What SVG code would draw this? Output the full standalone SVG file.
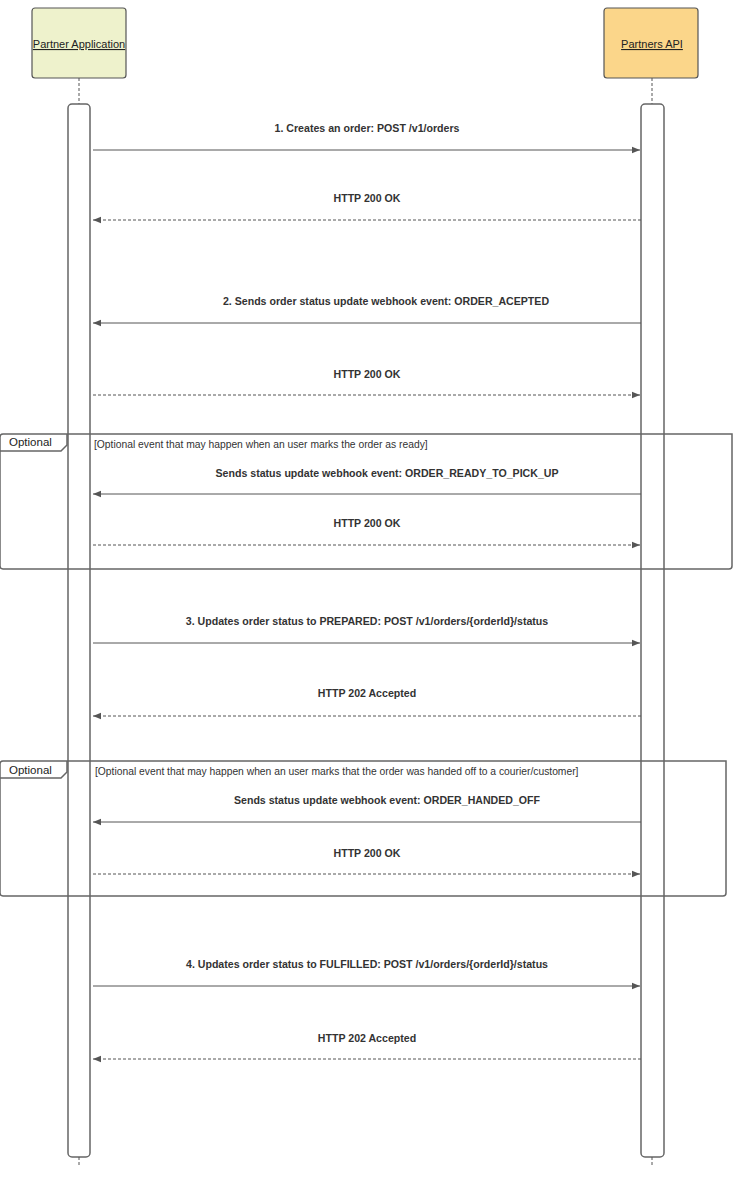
<svg xmlns="http://www.w3.org/2000/svg" width="741" height="1177" viewBox="0 0 741 1177">
<style>
text{font-family:"Liberation Sans",Arial,sans-serif;fill:#222}
.lbl{font-size:11px;text-anchor:middle}
.msg{font-size:10.6px;font-weight:bold;text-anchor:middle;fill:#333}
.ln{stroke:#555;stroke-width:1;fill:none}
.dash{stroke-dasharray:3,2}
.life{fill:#fff;stroke:#666;stroke-width:1.5}
.frame{fill:none;stroke:#666;stroke-width:1.5}
.small{font-size:10.3px;fill:#333}
</style>
<defs>
<marker id="ah" viewBox="0 0 10 10" refX="10" refY="5" markerWidth="8" markerHeight="8" orient="auto" markerUnits="userSpaceOnUse"><path d="M0,1 L10,5 L0,9 Z" fill="#555"/></marker>
</defs>
<g id="actor-partner-app">
<rect x="32" y="8" width="94" height="70" rx="3" fill="#eef2cc" stroke="#555" stroke-width="1.2"/>
<text class="lbl" x="79" y="48" font-size="10" text-decoration="underline">Partner Application</text>
<line class="ln dash" x1="79" y1="78" x2="79" y2="104" stroke="#888"/>
<rect class="life" x="68" y="104" width="22" height="1053" rx="4"/>
<line class="ln dash" x1="79" y1="1157" x2="79" y2="1166" stroke="#888"/>
</g>
<g id="actor-partners-api">
<rect x="604" y="8" width="94" height="70" rx="3" fill="#fbd68a" stroke="#555" stroke-width="1.2"/>
<text class="lbl" x="652" y="48" font-size="10" text-decoration="underline">Partners API</text>
<line class="ln dash" x1="652" y1="78" x2="652" y2="104" stroke="#888"/>
<rect class="life" x="641" y="104" width="23" height="1053" rx="4"/>
<line class="ln dash" x1="652" y1="1157" x2="652" y2="1166" stroke="#888"/>
</g>
<g id="frame-1">
<path class="frame" d="M3,434 H732 V566 Q732,569 729,569 H3 Q0,569 0,566 V437 Q0,434 3,434 Z"/>
<path class="frame" d="M0,451 H61 L67,445 V434" stroke-width="1"/>
<text x="9" y="446" font-size="11.5" fill="#333">Optional</text>
<text class="small" x="94" y="448">[Optional event that may happen when an user marks the order as ready]</text>
</g>
<g id="frame-2">
<path class="frame" d="M3,761 H726 V893 Q726,896 723,896 H3 Q0,896 0,893 V764 Q0,761 3,761 Z"/>
<path class="frame" d="M0,778 H61 L67,772 V761" stroke-width="1"/>
<text x="9" y="774" font-size="11.5" fill="#333">Optional</text>
<text class="small" x="95" y="775">[Optional event that may happen when an user marks that the order was handed off to a courier/customer]</text>
</g>
<g id="connectors">
<line class="ln" x1="93" y1="150" x2="640" y2="150" marker-end="url(#ah)"/>
<text class="msg" x="367" y="132">1. Creates an order: POST /v1/orders</text>
<line class="ln dash" x1="641" y1="220" x2="93" y2="220" marker-end="url(#ah)"/>
<text class="msg" x="367" y="202">HTTP 200 OK</text>
<line class="ln" x1="641" y1="323" x2="93" y2="323" marker-end="url(#ah)"/>
<text class="msg" x="386" y="305">2. Sends order status update webhook event: ORDER_ACEPTED</text>
<line class="ln dash" x1="93" y1="395" x2="640" y2="395" marker-end="url(#ah)"/>
<text class="msg" x="367" y="378">HTTP 200 OK</text>
<line class="ln" x1="641" y1="494" x2="93" y2="494" marker-end="url(#ah)"/>
<text class="msg" x="387" y="477">Sends status update webhook event: ORDER_READY_TO_PICK_UP</text>
<line class="ln dash" x1="93" y1="545" x2="640" y2="545" marker-end="url(#ah)"/>
<text class="msg" x="367" y="527">HTTP 200 OK</text>
<line class="ln" x1="93" y1="643" x2="640" y2="643" marker-end="url(#ah)"/>
<text class="msg" x="367" y="625">3. Updates order status to PREPARED: POST /v1/orders/{orderId}/status</text>
<line class="ln dash" x1="641" y1="716" x2="93" y2="716" marker-end="url(#ah)"/>
<text class="msg" x="367" y="697">HTTP 202 Accepted</text>
<line class="ln" x1="641" y1="822" x2="93" y2="822" marker-end="url(#ah)"/>
<text class="msg" x="387" y="804">Sends status update webhook event: ORDER_HANDED_OFF</text>
<line class="ln dash" x1="93" y1="874" x2="640" y2="874" marker-end="url(#ah)"/>
<text class="msg" x="367" y="857">HTTP 200 OK</text>
<line class="ln" x1="93" y1="986" x2="640" y2="986" marker-end="url(#ah)"/>
<text class="msg" x="367" y="968">4. Updates order status to FULFILLED: POST /v1/orders/{orderId}/status</text>
<line class="ln dash" x1="641" y1="1059" x2="93" y2="1059" marker-end="url(#ah)"/>
<text class="msg" x="367" y="1042">HTTP 202 Accepted</text>
</g>
</svg>
